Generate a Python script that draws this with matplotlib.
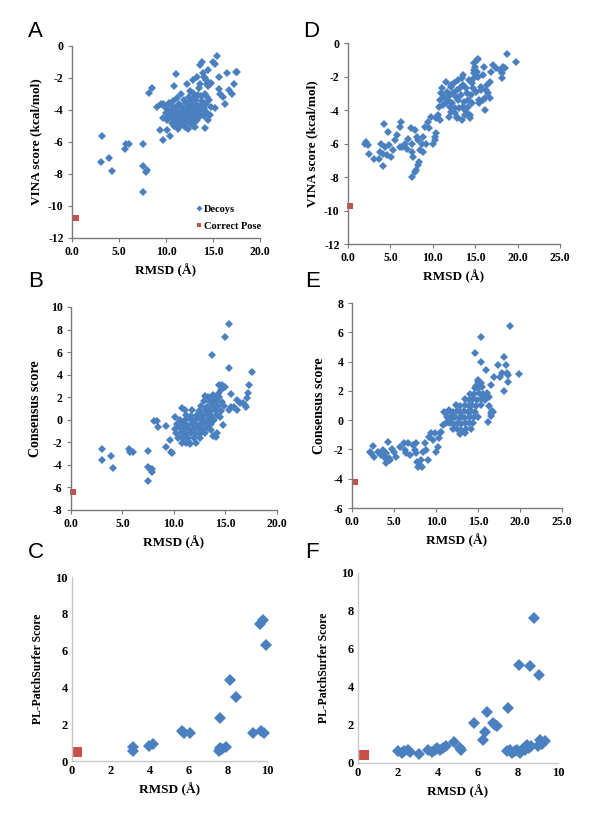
import matplotlib

matplotlib.use("Agg")
import matplotlib.pyplot as plt  # noqa: E402
import numpy as np  # noqa: E402
from matplotlib.ticker import FormatStrFormatter  # noqa: E402

plt.rcParams["font.family"] = ["Liberation Serif", "DejaVu Serif"]
plt.rcParams["axes.unicode_minus"] = False

BLUE = "#4a80c0"
RED = "#c8504b"

# ---- panel A: VINA score vs RMSD (decoys + correct pose)
a_decoys = [
    (3.19, -5.65), (3.08, -7.23), (3.96, -6.98), (4.25, -7.81), (5.77, -6.15), (5.66, -6.42),
    (6.09, -6.15), (7.6, -6.15), (7.6, -7.52), (7.82, -7.87), (7.96, -7.77), (7.6, -9.13),
    (8.18, -2.94), (8.5, -2.62), (11.08, -1.77), (10.8, -2.52),
    (15.4, -0.65), (15.0, -1.0), (15.2, -1.1), (13.6, -1.2), (13.8, -1.0), (14.05, -1.94),
    (14.5, -1.52), (13.9, -1.7), (14.2, -2.0), (14.4, -2.4), (15.6, -1.94), (16.5, -1.67),
    (17.4, -1.62), (17.6, -1.62), (17.2, -2.35), (16.7, -2.77), (17.0, -2.98), (16.1, -3.19),
    (16.3, -3.6), (15.75, -2.98), (15.6, -2.67), (15.2, -3.9), (14.7, -4.3), (14.2, -5.1),
    (13.1, -5.06), (13.6, -2.35), (14.7, -2.35), (14.3, -2.15), (13.3, -1.94), (12.9, -2.15),
    (12.2, -2.35), (14.5, -2.5), (14.8, -2.3), (13.5, -2.6), (12.6, -2.8),
    (9.0, -3.8), (9.7, -4.5), (9.4, -5.27), (9.7, -5.9), (10.4, -5.6), (10.1, -5.27),
    (10.8, -4.85), (9.5, -3.6), (9.8, -3.7),
    (11.6, -3.02), (12.9, -2.96), (13.4, -3.05), (14.1, -2.98),
    (11.2, -3.22), (12.4, -3.18), (13.0, -3.25), (13.7, -3.15), (14.4, -3.21),
    (10.7, -3.41), (11.9, -3.37), (12.6, -3.44), (13.2, -3.38), (13.8, -3.42), (14.6, -3.36),
    (9.7, -3.62), (10.3, -3.58), (11.4, -3.63), (12.1, -3.57), (12.8, -3.61), (13.3, -3.66),
    (13.9, -3.59), (14.3, -3.64),
    (9.9, -3.81), (10.6, -3.77), (11.1, -3.84), (11.7, -3.79), (12.3, -3.82), (12.7, -3.76),
    (13.1, -3.83), (13.6, -3.78), (14.0, -3.85), (14.8, -3.8),
    (10.2, -4.02), (10.8, -3.97), (11.3, -4.04), (11.9, -3.99), (12.2, -4.05), (12.6, -3.98),
    (12.9, -4.03), (13.4, -4.01), (13.8, -3.96), (14.2, -4.04),
    (10.0, -4.21), (10.5, -4.18), (11.0, -4.23), (11.5, -4.17), (11.8, -4.24), (12.4, -4.19),
    (12.8, -4.22), (13.2, -4.16), (13.6, -4.25), (14.4, -4.2),
    (10.3, -4.42), (10.7, -4.38), (11.2, -4.45), (11.6, -4.39), (12.0, -4.43), (12.5, -4.37),
    (13.0, -4.44), (13.5, -4.41), (14.0, -4.36),
    (10.1, -4.61), (10.9, -4.57), (11.4, -4.64), (11.9, -4.59), (12.3, -4.62), (12.7, -4.56),
    (13.3, -4.63), (14.5, -4.6),
    (10.6, -4.81), (11.1, -4.77), (11.7, -4.84), (12.1, -4.79), (12.6, -4.82), (13.1, -4.78),
    (10.9, -5.02), (11.5, -4.98), (12.0, -5.04), (12.9, -5.0), (11.3, -5.2), (12.3, -5.18),
]
a_correct = [(0.39, -10.73)]

# ---- panel B: consensus score vs RMSD
b_decoys = [
    (3.05, -2.63), (3.05, -3.57), (3.89, -3.2), (4.1, -4.3), (5.64, -2.63), (5.74, -2.9),
    (6.06, -2.9), (7.52, -2.77), (7.52, -4.16), (7.68, -4.4), (7.84, -4.6), (7.9, -4.4),
    (7.52, -5.4), (8.07, -0.09), (8.4, -0.09), (8.43, -0.62), (9.24, -0.56), (9.24, -2.45),
    (9.69, -2.83), (9.79, -2.92), (9.6, -1.8), (10.1, 0.26), (10.76, 1.0), (11.08, 0.9),
    (10.9, -1.65), (11.2, -2.1), (11.6, -2.15), (12.97, 2.12), (13.7, 5.72), (14.94, 7.35),
    (15.3, 8.53), (15.3, 4.6), (14.4, 3.07), (14.65, 3.07), (14.97, 2.86), (15.5, 2.24),
    (15.5, 1.15), (15.3, 0.86), (15.8, 1.15), (16.1, 1.74), (16.1, 0.86), (16.4, 1.45),
    (16.7, 1.45), (16.9, 1.3), (17.0, 1.15), (17.2, 2.33), (17.3, 3.07), (17.57, 4.25),
    (17.1, 1.9), (14.2, -1.2), (14.1, -1.5), (13.7, 1.45), (13.8, 2.2),
    (13.3, 2.02), (13.9, 1.96), (14.4, 2.04),
    (12.9, 1.62), (13.5, 1.57), (14.1, 1.64), (14.7, 1.58),
    (12.6, 1.22), (13.2, 1.17), (13.8, 1.24), (14.3, 1.19), (14.9, 1.21),
    (11.8, 0.82), (12.4, 0.77), (13.0, 0.84), (13.5, 0.78), (14.0, 0.83), (14.6, 0.79),
    (11.2, 0.42), (11.7, 0.37), (12.2, 0.44), (12.7, 0.38), (13.2, 0.43), (13.7, 0.36), (14.2, 0.41),
    (10.6, 0.02), (11.1, -0.03), (11.6, 0.04), (12.0, -0.02), (12.5, 0.03), (12.9, -0.04),
    (13.4, 0.02), (13.9, -0.01),
    (10.3, -0.42), (10.8, -0.37), (11.3, -0.44), (11.8, -0.38), (12.2, -0.43), (12.6, -0.36),
    (13.1, -0.41), (13.6, -0.39),
    (10.1, -0.82), (10.6, -0.77), (11.0, -0.84), (11.5, -0.78), (11.9, -0.83), (12.4, -0.79),
    (12.8, -0.81), (13.3, -0.76),
    (10.2, -1.22), (10.7, -1.17), (11.2, -1.24), (11.7, -1.18), (12.1, -1.23), (12.6, -1.19),
    (13.0, -1.21),
    (10.4, -1.62), (10.9, -1.57), (11.4, -1.64), (11.9, -1.58), (12.5, -1.61),
    (10.8, -2.02), (11.5, -1.97), (12.1, -2.04),
    (14.5, 0.2), (14.8, -0.5), (13.8, -1.4), (14.3, 2.3), (14.6, 2.6), (13.6, -0.9),
]
b_correct = [(0.23, -6.43)]

# ---- panel C: PL-PatchSurfer score vs RMSD
c_decoys = [
    (3.11, 0.56), (3.13, 0.74), (3.93, 0.83), (4.15, 0.92), (5.64, 1.63), (5.73, 1.54),
    (6.07, 1.54), (7.52, 0.54), (7.6, 0.69), (7.69, 0.65), (7.9, 0.78), (7.57, 2.35),
    (8.12, 4.43), (8.43, 3.47), (9.26, 1.5), (9.7, 1.63), (9.83, 1.54), (9.62, 7.43),
    (9.8, 7.69), (9.97, 6.31),
]
c_correct = [(0.27, 0.49)]

# ---- panel D: VINA score vs RMSD (second target)
d_decoys = [
    (1.97, -6.0), (2.17, -5.9), (2.36, -6.1), (2.48, -6.64), (3.03, -6.95), (3.62, -6.95),
    (3.74, -6.5), (3.86, -6.0), (4.13, -6.64), (4.13, -7.35), (4.21, -4.81), (4.33, -6.2),
    (4.6, -6.7), (4.72, -5.3), (4.84, -6.1), (5.04, -6.8), (5.3, -6.4), (5.5, -5.8),
    (5.8, -5.5), (6.1, -5.0), (6.1, -6.2), (6.3, -4.7), (6.4, -6.2), (6.7, -6.0),
    (6.9, -6.3), (7.1, -5.7), (7.4, -5.1), (7.5, -6.0), (7.55, -6.5), (7.7, -6.8),
    (7.6, -8.0), (7.9, -7.7), (8.07, -7.6), (8.27, -7.3), (8.4, -7.1), (7.9, -5.2),
    (8.1, -5.6), (8.3, -5.8), (8.5, -6.4), (8.7, -6.0), (8.9, -6.5), (8.9, -5.6),
    (9.05, -5.0), (9.25, -6.0), (9.45, -4.7), (9.6, -5.1), (9.8, -4.4), (10.0, -6.0),
    (10.2, -5.8), (10.2, -5.6), (10.4, -5.4), (10.4, -4.5), (10.6, -4.3), (10.8, -4.6),
    (10.75, -3.8), (10.9, -3.4), (11.0, -3.0), (11.1, -2.7), (11.2, -3.7),
    (11.6, -2.3), (11.8, -3.4), (12.0, -3.8), (12.2, -2.5), (12.4, -3.0), (12.6, -4.2),
    (12.8, -4.5), (13.0, -3.4), (13.2, -2.7), (13.4, -2.1), (13.6, -3.8), (13.8, -4.3),
    (14.0, -3.0), (14.2, -3.4), (14.4, -4.5), (14.6, -2.4), (14.8, -1.8), (14.8, -1.2),
    (15.2, -1.0), (15.35, -0.95), (16.0, -1.4), (15.7, -2.6), (15.9, -3.4), (16.1, -4.0),
    (16.3, -2.8), (16.7, -2.3), (16.9, -1.7), (17.1, -1.3), (17.5, -1.5), (17.9, -1.6),
    (18.1, -1.8), (18.1, -2.07), (18.3, -1.4), (18.5, -1.5), (18.8, -0.64), (19.8, -1.13),
    (16.7, -3.3), (16.5, -3.0),
    (11.3, -3.2), (11.5, -3.6), (11.7, -2.9), (12.0, -3.1), (12.1, -2.6), (12.3, -3.6),
    (12.5, -2.4), (12.7, -3.2), (12.9, -2.8), (13.1, -3.9), (13.3, -3.1), (13.5, -2.5),
    (13.7, -3.5), (13.9, -2.7), (14.1, -3.8), (14.3, -2.2), (14.5, -3.1), (14.7, -2.7),
    (14.9, -1.6), (15.1, -2.9), (15.3, -2.0), (15.5, -3.4), (15.7, -2.8), (15.9, -1.9),
    (12.2, -4.1), (12.8, -4.4), (13.4, -4.6), (14.0, -4.2), (14.6, -3.6), (15.0, -1.4),
    (15.2, -1.7), (14.9, -2.1), (13.0, -2.2), (13.6, -1.9), (12.6, -3.9), (11.9, -4.4),
    (16.2, -3.3), (16.4, -2.5), (15.4, -3.6), (13.8, -4.0), (14.4, -4.3),
]
d_correct = [(0.28, -9.74)]

# ---- panel E: consensus score vs RMSD (second target)
e_decoys = [
    (2.1, -2.16), (2.3, -2.23), (2.5, -1.77), (2.58, -2.5), (3.1, -2.16), (3.5, -2.39),
    (3.7, -2.05), (3.9, -2.6), (4.0, -2.27), (4.1, -2.96), (4.3, -1.47), (4.4, -2.6),
    (4.56, -2.73), (4.8, -2.0), (4.96, -2.16), (5.2, -2.5), (5.67, -1.82), (6.15, -1.59),
    (6.27, -2.05), (6.47, -2.27), (6.67, -1.59), (6.87, -2.39), (7.26, -1.7), (7.46, -2.05),
    (7.6, -1.59), (7.66, -2.27), (7.74, -2.84), (7.86, -3.18), (8.06, -3.07), (8.25, -2.73),
    (8.37, -3.18), (8.45, -2.16), (8.65, -1.59), (8.85, -2.05), (9.05, -2.73), (9.17, -1.13),
    (9.44, -0.9), (9.64, -1.36), (9.84, -0.9), (10.04, -2.16), (10.24, -1.82), (10.36, -1.25),
    (10.5, -0.9), (10.63, -0.8), (10.83, -0.33), (10.9, 0.58), (11.23, 0.47), (11.4, -0.1),
    (11.55, 0.7), (11.8, 0.24),
    (14.7, 4.58), (15.4, 5.65), (15.4, 4.0), (16.0, 3.43), (15.4, 2.52), (14.95, 2.75),
    (16.6, 2.4), (16.9, 2.93), (17.4, 3.78), (17.6, 2.98), (17.8, 3.2), (18.1, 4.3),
    (18.3, 3.78), (18.4, 3.2), (18.6, 3.1), (18.05, 2.0), (18.6, 2.64), (18.77, 6.45),
    (19.84, 3.16), (16.2, -0.1), (16.6, 0.47), (16.8, 0.58), (16.3, 1.6), (16.0, 1.5),
    (14.6, 2.22), (15.0, 2.17), (15.5, 2.24),
    (14.0, 1.82), (14.5, 1.77), (15.1, 1.84), (15.6, 1.78), (16.1, 1.83),
    (13.4, 1.42), (13.9, 1.37), (14.4, 1.44), (14.9, 1.38), (15.3, 1.43), (15.8, 1.36),
    (12.4, 1.02), (12.9, 0.97), (13.4, 1.04), (13.9, 0.98), (14.3, 1.03), (14.8, 0.96), (15.3, 1.01),
    (11.5, 0.62), (12.0, 0.57), (12.5, 0.64), (12.9, 0.58), (13.3, 0.63), (13.8, 0.56),
    (14.2, 0.61), (14.7, 0.59),
    (11.3, 0.22), (11.9, 0.17), (12.3, 0.24), (12.7, 0.18), (13.1, 0.23), (13.5, 0.16),
    (14.0, 0.21), (14.5, 0.19), (15.0, 0.22),
    (11.2, -0.22), (11.7, -0.17), (12.2, -0.24), (12.6, -0.18), (13.0, -0.23), (13.4, -0.16),
    (13.9, -0.21), (14.4, -0.19),
    (12.0, -0.62), (12.5, -0.57), (13.0, -0.64), (13.6, -0.58), (14.2, -0.61),
    (12.8, -0.92), (13.4, -0.88),
    (15.0, 2.6), (14.8, 2.3), (15.2, 2.5), (16.3, 1.0), (16.7, 0.6), (16.5, 0.3),
]
e_correct = [(0.32, -4.2)]

# ---- panel F: PL-PatchSurfer score vs RMSD (second target)
f_decoys = [
    (2.0, 0.61), (2.2, 0.53), (2.32, 0.61), (2.48, 0.67), (2.62, 0.6), (3.07, 0.49),
    (3.48, 0.67), (3.7, 0.56), (3.83, 0.7), (3.95, 0.79), (4.12, 0.7), (4.25, 0.79),
    (4.42, 0.88), (4.78, 1.12), (5.08, 0.79), (5.17, 0.7), (5.78, 2.1), (6.23, 1.23),
    (6.33, 1.61), (6.45, 2.67), (6.73, 2.1), (6.87, 2.02), (6.95, 1.93), (7.48, 2.91),
    (7.45, 0.61), (7.58, 0.7), (7.7, 0.53), (7.87, 0.61), (7.95, 0.7), (8.03, 5.18),
    (8.12, 0.53), (8.2, 0.67), (8.28, 0.79), (8.37, 0.7), (8.45, 0.96), (8.53, 0.79),
    (8.62, 5.12), (8.65, 0.88), (8.78, 7.63), (9.03, 4.65), (9.08, 1.23), (9.2, 1.02),
    (9.37, 1.14), (8.98, 0.91),
]
f_correct = [(0.28, 0.44)]

A_YLABEL = "VINA score (kcal/mol)"
B_YLABEL = "Consensus score"
C_YLABEL = "PL-PatchSurfer Score"
XLABEL = "RMSD (\u00c5)"


def style_axis(ax, xmax, xstep, ymin, ymax, ystep, light=False, xfmt="%.1f"):
    ax.set_xlim(0, xmax)
    ax.set_ylim(ymin, ymax)
    ax.set_xticks(np.arange(0, xmax + 0.01, xstep))
    ax.set_yticks(np.arange(ymin, ymax + 0.01, ystep))
    ax.xaxis.set_major_formatter(FormatStrFormatter(xfmt))
    ax.yaxis.set_major_formatter(FormatStrFormatter("%d"))
    for side in ("top", "right"):
        ax.spines[side].set_visible(False)
    col = "#c8c8c8" if light else "#7a7a7a"
    for side in ("left", "bottom"):
        ax.spines[side].set_color(col)
        ax.spines[side].set_linewidth(1.0)
    ax.tick_params(direction="out", length=0 if light else 3, width=0.8, color=col,
                   labelsize=9 if light else 8.5, pad=3)
    for lab in ax.get_xticklabels() + ax.get_yticklabels():
        lab.set_fontweight("bold")
    ax.set_xlabel(XLABEL, fontsize=9.5, fontweight="bold", labelpad=4)
    ax.patch.set_alpha(0)


def scatter_panel(ax, decoys, correct, big=False):
    d = np.array(decoys)
    c = np.array(correct)
    ax.plot(d[:, 0], d[:, 1], "D", color=BLUE, ms=6.3 if big else 3.8, mew=0,
            label="Decoys", clip_on=False)
    ax.plot(c[:, 0], c[:, 1], "s", color=RED, ms=6.5 if big else 4.2, mew=0,
            label="Correct Pose", clip_on=False)


fig = plt.figure(figsize=(6.04, 8.17), dpi=100)

ax_a = fig.add_axes([0.1192, 0.7087, 0.3113, 0.2350])
ax_d = fig.add_axes([0.5762, 0.7013, 0.3510, 0.2460])
ax_b = fig.add_axes([0.1175, 0.3758, 0.3410, 0.2485])
ax_e = fig.add_axes([0.5828, 0.3782, 0.3477, 0.2509])
ax_c = fig.add_axes([0.1192, 0.0685, 0.3228, 0.2252])
ax_f = fig.add_axes([0.5927, 0.0661, 0.3311, 0.2326])

scatter_panel(ax_a, a_decoys, a_correct)
style_axis(ax_a, 20, 5, -12, 0, 2)
ax_a.set_ylabel(A_YLABEL, fontsize=9.5, fontweight="bold", labelpad=4)
leg = ax_a.legend(loc="lower left", bbox_to_anchor=(0.62, 0.0), frameon=False,
                  prop={"family": "Liberation Serif", "weight": "bold", "size": 7.5},
                  handlelength=0.6, handletextpad=0.2, labelspacing=0.7, borderaxespad=0.3,
                  markerscale=0.8)

scatter_panel(ax_d, d_decoys, d_correct)
style_axis(ax_d, 25, 5, -12, 0, 2)
ax_d.set_ylabel(A_YLABEL, fontsize=9.5, fontweight="bold", labelpad=4)

scatter_panel(ax_b, b_decoys, b_correct)
style_axis(ax_b, 20, 5, -8, 10, 2)
ax_b.set_ylabel(B_YLABEL, fontsize=10, fontweight="bold", labelpad=6)

scatter_panel(ax_e, e_decoys, e_correct)
style_axis(ax_e, 25, 5, -6, 8, 2)
ax_e.set_ylabel(B_YLABEL, fontsize=10, fontweight="bold", labelpad=6)

scatter_panel(ax_c, c_decoys, c_correct, big=True)
style_axis(ax_c, 10, 2, 0, 10, 2, light=True, xfmt="%d")
ax_c.set_ylabel(C_YLABEL, fontsize=8.5, fontweight="bold", labelpad=8)

scatter_panel(ax_f, f_decoys, f_correct, big=True)
style_axis(ax_f, 10, 2, 0, 10, 2, light=True, xfmt="%d")
ax_f.set_ylabel(C_YLABEL, fontsize=8.5, fontweight="bold", labelpad=8)

# panel letters (pixel positions from the top-left corner)
letters = [("A", 28, 37), ("D", 303, 37), ("B", 28, 287),
           ("E", 305, 287), ("C", 28, 558), ("F", 305, 558)]
for txt, px, py in letters:
    fig.text(px / 604, 1 - py / 817, txt, fontsize=16, family="Liberation Sans",
             ha="left", va="baseline")

fig.savefig("out.png", dpi=100, facecolor="white")
